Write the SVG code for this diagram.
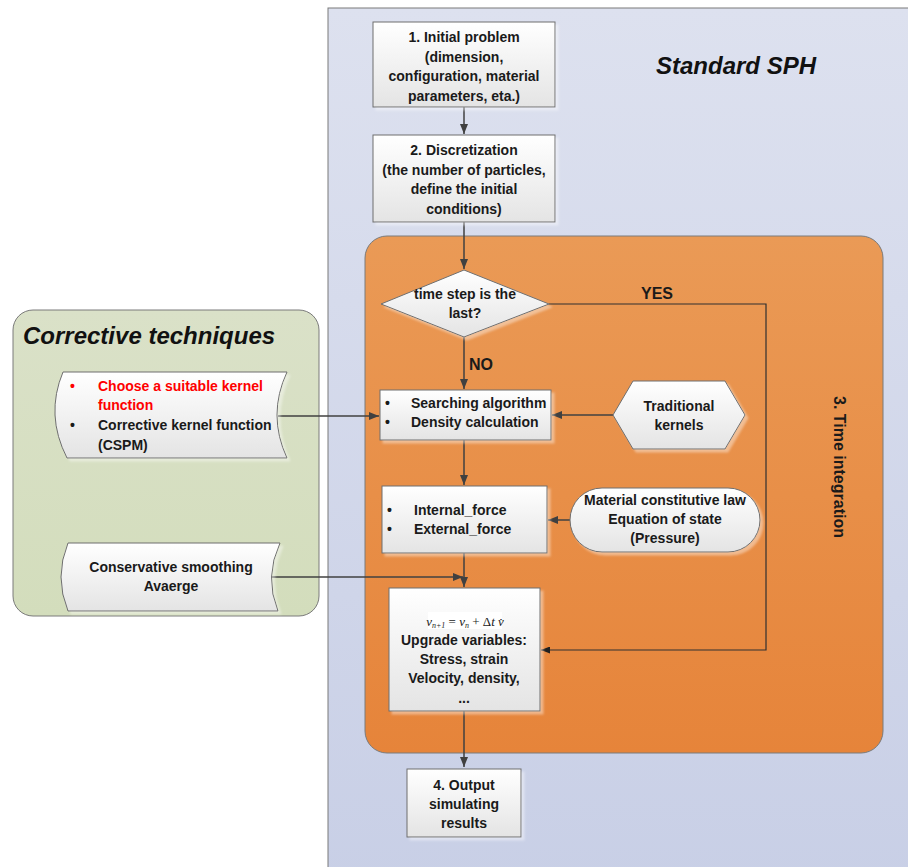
<svg xmlns="http://www.w3.org/2000/svg" width="908" height="867" viewBox="0 0 908 867">
<defs>
<linearGradient id="gBlue" x1="0" y1="0" x2="0" y2="1"><stop offset="0" stop-color="#dde1ef"/><stop offset="1" stop-color="#c8cfe6"/></linearGradient>
<linearGradient id="gOrange" x1="0" y1="0" x2="0" y2="1"><stop offset="0" stop-color="#ea9a56"/><stop offset="1" stop-color="#e6843a"/></linearGradient>
<linearGradient id="gGreen" x1="0" y1="0" x2="0" y2="1"><stop offset="0" stop-color="#dae1c8"/><stop offset="1" stop-color="#d3ddbc"/></linearGradient>
<linearGradient id="gNode" x1="0" y1="0" x2="0" y2="1"><stop offset="0" stop-color="#ffffff"/><stop offset="1" stop-color="#e4e4e4"/></linearGradient>
<filter id="sh" x="-10%" y="-10%" width="130%" height="130%"><feDropShadow dx="3" dy="3" stdDeviation="0.8" flood-color="#ffffff" flood-opacity="0.4"/></filter>
<marker id="arr" markerWidth="10" markerHeight="8" refX="10" refY="4" orient="auto" markerUnits="userSpaceOnUse"><path d="M0,0 L10,4 L0,8 Z" fill="#404040"/></marker>
<marker id="arrS" markerWidth="9" markerHeight="7" refX="9" refY="3.5" orient="auto" markerUnits="userSpaceOnUse"><path d="M0,0 L9,3.5 L0,7 Z" fill="#202020"/></marker>
</defs>
<style>
.panel{stroke:#7a7a7a;stroke-width:1}
.node{fill:url(#gNode);stroke:#6e6e6e;stroke-width:1;filter:url(#sh)}
.t{font-family:"Liberation Sans",Arial,sans-serif;font-weight:bold;font-size:14px;fill:#1a1a1a}
.c{text-anchor:middle}
.lbl{font-family:"Liberation Sans",Arial,sans-serif;font-weight:bold;font-size:16px;fill:#1a1a1a}
.big{font-family:"Liberation Sans",Arial,sans-serif;font-weight:bold;font-style:italic;font-size:24px;fill:#111}
.conn{fill:none;stroke:#404040;stroke-width:1.5}
.connT{fill:none;stroke:#303030;stroke-width:1.2}
.f{font-family:"Liberation Serif","Times New Roman",serif;font-style:italic;font-size:13px;fill:#222}
</style>

<g id="panel-standard">
<rect class="panel" x="328" y="8" width="600" height="880" fill="url(#gBlue)"/>
<text class="big" x="656" y="74">Standard SPH</text>
</g>

<g id="panel-time">
<rect class="panel" x="365" y="236" width="518" height="517" rx="22" fill="url(#gOrange)"/>
<text class="lbl" transform="translate(834,467) rotate(90)" text-anchor="middle">3. Time integration</text>
</g>

<g id="panel-corrective">
<rect class="panel" x="13" y="310" width="306" height="306" rx="20" fill="url(#gGreen)"/>
<text class="big" x="23" y="344">Corrective techniques</text>
</g>

<g id="connectors">
<path class="conn" d="M464,107 L464,134" marker-end="url(#arr)"/>
<path class="conn" d="M464,222 L464,269" marker-end="url(#arr)"/>
<path class="conn" d="M464,337 L464,389" marker-end="url(#arr)"/>
<path class="connT" d="M549,304 L766,304 L766,650 L541,650" marker-end="url(#arrS)"/>
<path class="conn" d="M613,415 L552,415" marker-end="url(#arr)"/>
<path class="conn" d="M278,416 L379,416" marker-end="url(#arr)"/>
<path class="conn" d="M464,440 L464,485" marker-end="url(#arr)"/>
<path class="conn" d="M570,520 L548,520" marker-end="url(#arr)"/>
<path class="conn" d="M464,553 L464,587" marker-end="url(#arr)"/>
<path class="conn" d="M272,577 L463,577" marker-end="url(#arr)"/>
<path class="conn" d="M464,711 L464,767" marker-end="url(#arr)"/>
<text class="lbl" x="657" y="299" text-anchor="middle">YES</text>
<text class="lbl" x="469" y="370">NO</text>
</g>

<g id="n1">
<rect class="node" x="373" y="22" width="182" height="85"/>
<text class="t c" x="464" y="42">1. Initial problem</text>
<text class="t c" x="464" y="61.5">(dimension,</text>
<text class="t c" x="464" y="81">configuration, material</text>
<text class="t c" x="464" y="100.5">parameters, eta.)</text>
</g>

<g id="n2">
<rect class="node" x="373" y="135" width="182" height="87"/>
<text class="t c" x="464" y="155">2. Discretization</text>
<text class="t c" x="464" y="174.5">(the number of particles,</text>
<text class="t c" x="464" y="194">define the initial</text>
<text class="t c" x="464" y="213.5">conditions)</text>
</g>

<g id="n-decision">
<polygon class="node" points="464,270 549,304 464,337 381,304"/>
<text class="t c" x="465" y="299">time step is the</text>
<text class="t c" x="465" y="318">last?</text>
</g>

<g id="n3">
<rect class="node" x="380" y="390" width="171" height="50"/>
<text class="t" x="385" y="408">•</text>
<text class="t" x="411" y="408">Searching algorithm</text>
<text class="t" x="385" y="427">•</text>
<text class="t" x="411" y="427">Density calculation</text>
</g>

<g id="n-kernels">
<polygon class="node" points="613,415 633,381 725,381 745,415 725,449 633,449"/>
<text class="t c" x="679" y="411">Traditional</text>
<text class="t c" x="679" y="430">kernels</text>
</g>

<g id="n4">
<rect class="node" x="382" y="486" width="165" height="67"/>
<text class="t" x="387" y="515">•</text>
<text class="t" x="414" y="515">Internal_force</text>
<text class="t" x="387" y="534">•</text>
<text class="t" x="414" y="534">External_force</text>
</g>

<g id="n-material">
<rect class="node" x="570" y="488" width="190" height="64" rx="32"/>
<text class="t c" x="665" y="505">Material constitutive law</text>
<text class="t c" x="665" y="524">Equation of state</text>
<text class="t c" x="665" y="543">(Pressure)</text>
</g>

<g id="n5">
<rect class="node" x="389" y="588" width="151" height="123"/>
<rect x="428" y="612" width="74" height="17" fill="#ffffff"/>
<text class="f" x="465" y="626" text-anchor="middle">v<tspan font-size="8" dy="2">n+1</tspan><tspan dy="-2" font-style="normal"> = </tspan>v<tspan font-size="8" dy="2">n</tspan><tspan dy="-2" font-style="normal"> + Δ</tspan>t v̇</text>
<text class="t c" x="464" y="645">Upgrade variables:</text>
<text class="t c" x="464" y="664">Stress, strain</text>
<text class="t c" x="464" y="683">Velocity, density,</text>
<text class="t c" x="464" y="703">...</text>
</g>

<g id="n6">
<rect class="node" x="407" y="769" width="114" height="68"/>
<text class="t c" x="464" y="790">4. Output</text>
<text class="t c" x="464" y="809">simulating</text>
<text class="t c" x="464" y="828">results</text>
</g>

<g id="n-kernelfn">
<path class="node" d="M63,372 L287,372 Q267,415 287,458 L67,458 Q45,415 63,372 Z"/>
<text class="t" x="70" y="391" style="fill:#ff0000">•</text>
<text class="t" x="98" y="391" style="fill:#ff0000">Choose a suitable kernel</text>
<text class="t" x="98" y="410" style="fill:#ff0000">function</text>
<text class="t" x="70" y="430">•</text>
<text class="t" x="98" y="430">Corrective kernel function</text>
<text class="t" x="98" y="450">(CSPM)</text>
</g>

<g id="n-smoothing">
<path class="node" d="M68,543 L280,543 Q264,577 278,611 L68,611 Q54,577 68,543 Z"/>
<text class="t c" x="171" y="572">Conservative smoothing</text>
<text class="t c" x="171" y="591">Avaerge</text>
</g>
</svg>
